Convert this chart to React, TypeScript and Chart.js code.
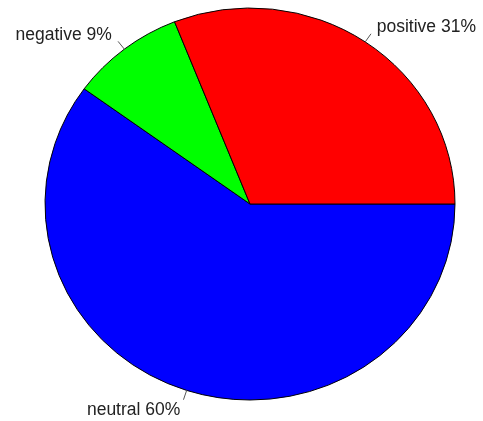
import React, { useEffect, useRef } from "react";
import { Chart, registerables } from "chart.js";

Chart.register(...registerables);

const categories = ["neutral", "negative", "positive"];
const values = [60, 9, 31];
const colors = ["#0000FF", "#00FF00", "#FF0000"];

const Y_SCALE = 196 / 205;

const ellipsePlugin = {
  id: "ellipse",
  beforeDatasetsDraw(chart: any) {
    const arc = chart.getDatasetMeta(0).data[0];
    const ctx = chart.ctx;
    ctx.save();
    ctx.translate(arc.x, arc.y);
    ctx.scale(1, Y_SCALE);
    ctx.translate(-arc.x, -arc.y);
  },
  afterDatasetsDraw(chart: any) {
    chart.ctx.restore();
  },
};

const labelPlugin = {
  id: "rlabels",
  afterDraw(chart: any) {
    const ctx = chart.ctx;
    const meta = chart.getDatasetMeta(0);
    const labels = chart.data.labels;
    const data = chart.data.datasets[0].data;
    meta.data.forEach((arc: any, i: number) => {
      const mid = (arc.startAngle + arc.endAngle) / 2;
      const r = arc.outerRadius;
      const c = Math.cos(mid);
      const s = Math.sin(mid);
      const px = (k: number) => arc.x + c * r * k;
      const py = (k: number) => arc.y + s * r * k * Y_SCALE;
      ctx.save();
      ctx.strokeStyle = "#555";
      ctx.lineWidth = 1;
      ctx.beginPath();
      ctx.moveTo(px(1), py(1));
      ctx.lineTo(px(1.05), py(1.05));
      ctx.stroke();
      ctx.fillStyle = "#222";
      ctx.font = '17.5px "Liberation Sans", Arial, sans-serif';
      ctx.textAlign = c >= 0 ? "left" : "right";
      ctx.textBaseline = "middle";
      ctx.fillText(`${labels[i]} ${data[i]}%`, px(1.1), py(1.1) + 1.5);
      ctx.restore();
    });
  },
};

export default function App() {
  const ref = useRef<HTMLCanvasElement>(null);
  useEffect(() => {
    const chart = new Chart(ref.current!, {
      type: "pie",
      data: {
        labels: categories,
        datasets: [
          {
            data: values,
            backgroundColor: colors,
            borderColor: "#000",
            borderWidth: 1,
          },
        ],
      },
      options: {
        animation: false,
        responsive: false,
        rotation: 90,
        radius: 205,
        layout: { padding: { left: 40, right: 23, top: 0, bottom: 13 } },
        plugins: {
          legend: { display: false },
          tooltip: { enabled: false },
        },
      },
      plugins: [ellipsePlugin, labelPlugin],
    });
    return () => chart.destroy();
  }, []);
  return (
    <div style={{ position: "fixed", left: 0, top: 0, width: 483, height: 421, background: "#fff" }}>
      <canvas ref={ref} width={483} height={421} />
    </div>
  );
}
